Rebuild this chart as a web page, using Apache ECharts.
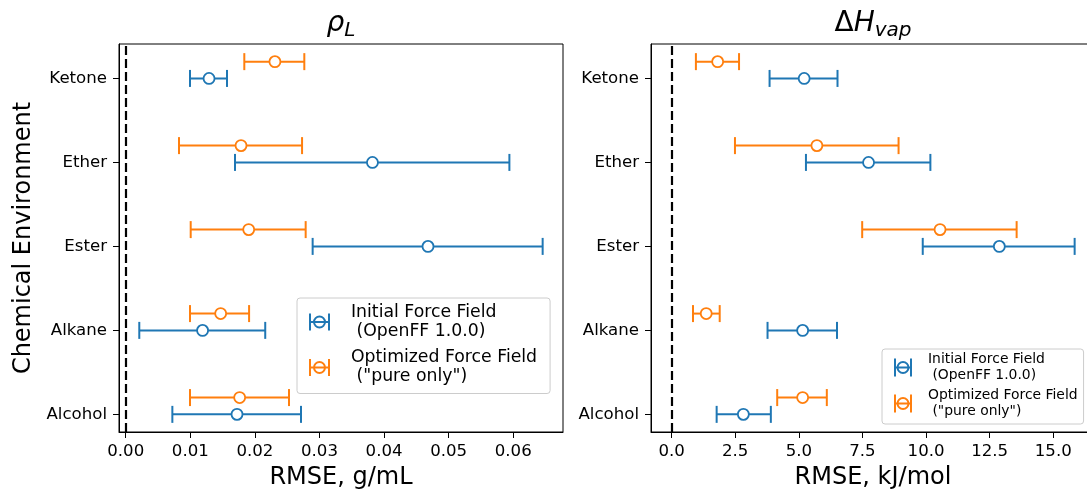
<!DOCTYPE html>
<html><head><meta charset="utf-8">
<script src="https://cdn.jsdelivr.net/npm/echarts@6/dist/echarts.min.js"></script>
<style>html,body{margin:0;padding:0;background:#fff}#c{width:1087px;height:491px}</style>
</head><body><div id="c"></div>
<script>
// ---- data ----
const categories = ['Alcohol', 'Alkane', 'Ester', 'Ether', 'Ketone'];
const seriesNames = ['Initial Force Field (OpenFF 1.0.0)', 'Optimized Force Field ("pure only")'];
const densityTicks = [0, 0.01, 0.02, 0.03, 0.04, 0.05, 0.06];
const hvapTicks = [0, 2.5, 5, 7.5, 10, 12.5, 15];
const categoryTicks = [0, 1, 2, 3, 4];

// density RMSE (g/mL)
const densityInitial     = [0.01723, 0.0119, 0.0468, 0.0382, 0.0129];
const densityInitialLow  = [0.00722, 0.0021, 0.02894, 0.01692, 0.00995];
const densityInitialHigh = [0.02714, 0.0216, 0.06455, 0.0594, 0.01568];
const densityOpt         = [0.01764, 0.0147, 0.01904, 0.01785, 0.0231];
const densityOptLow      = [0.00995, 0.00995, 0.01006, 0.00825, 0.01836];
const densityOptHigh     = [0.02528, 0.0191, 0.02786, 0.0273, 0.02765];

// enthalpy of vaporization RMSE (kJ/mol)
const hvapInitial     = [2.82, 5.15, 12.88, 7.74, 5.21];
const hvapInitialLow  = [1.77, 3.77, 9.87, 5.28, 3.85];
const hvapInitialHigh = [3.90, 6.50, 15.84, 10.17, 6.52];
const hvapOpt         = [5.15, 1.36, 10.55, 5.71, 1.81];
const hvapOptLow      = [4.15, 0.84, 7.49, 2.49, 0.955];
const hvapOptHigh     = [6.10, 1.89, 13.56, 8.92, 2.65];

// ---- style / layout ----
const BLUE = '#1f77b4', ORANGE = '#ff7f0e';
const OFFSET = 0.2;
const FONT = 'DejaVu Sans';
const TICK_FS = 16.6;

function errorBars(name, lo, hi, off, color, idx) {
  return {
    type: 'custom', name, xAxisIndex: idx, yAxisIndex: idx, z: 2, silent: true,
    data: lo.map((l, i) => [l, hi[i], i + off]),
    encode: { x: [0, 1], y: 2 },
    renderItem: (params, api) => {
      const a = api.coord([api.value(0), api.value(2)]);
      const b = api.coord([api.value(1), api.value(2)]);
      const h = 8.5;
      const style = { stroke: color, lineWidth: 2, fill: null };
      return { type: 'group', children: [
        { type: 'line', shape: { x1: a[0], y1: a[1], x2: b[0], y2: b[1] }, style },
        { type: 'line', shape: { x1: a[0], y1: a[1] - h, x2: a[0], y2: a[1] + h }, style },
        { type: 'line', shape: { x1: b[0], y1: b[1] - h, x2: b[0], y2: b[1] + h }, style }
      ]};
    }
  };
}
function points(name, vals, off, color, idx, withLine) {
  const s = {
    type: 'scatter', name, xAxisIndex: idx, yAxisIndex: idx, z: 3, silent: true,
    data: vals.map((v, i) => [v, i + off]),
    symbol: 'circle', symbolSize: 11,
    itemStyle: { color: '#fff', borderColor: color, borderWidth: 1.8, opacity: 1 }
  };
  if (withLine) {
    s.markLine = { silent: true, symbol: 'none', label: { show: false }, animation: false,
      lineStyle: { color: '#000', type: [9, 4], width: 2.2 }, data: [{ xAxis: 0 }] };
  }
  return s;
}

function xAxis(idx, min, max, ticks, dec, name) {
  return {
    type: 'value', gridIndex: idx, min, max,
    axisLine: { show: true, onZero: false, lineStyle: { color: '#000', width: 1 } },
    axisTick: { show: true, length: 6, customValues: ticks, lineStyle: { color: '#000', width: 1 } },
    axisLabel: { customValues: ticks, formatter: v => Number(v).toFixed(dec),
      fontSize: TICK_FS, fontFamily: FONT, color: '#000', margin: 11 },
    splitLine: { show: false },
    name, nameLocation: 'middle', nameGap: 34,
    nameTextStyle: { fontSize: 24, fontFamily: FONT, color: '#000' }
  };
}
function yAxis(idx, name) {
  const a = {
    type: 'value', gridIndex: idx, min: -0.21, max: 4.41,
    axisLine: { show: true, onZero: false, lineStyle: { color: '#000', width: 1 } },
    axisTick: { show: true, length: 6, customValues: categoryTicks, lineStyle: { color: '#000', width: 1 } },
    axisLabel: { customValues: categoryTicks, formatter: v => categories[Math.round(v)],
      fontSize: TICK_FS, fontFamily: FONT, color: '#000', margin: 12 },
    splitLine: { show: false }
  };
  if (name) {
    a.name = name; a.nameLocation = 'middle'; a.nameGap = 83;
    a.nameTextStyle = { fontSize: 24, fontFamily: FONT, color: '#000' };
  }
  return a;
}

const iconLeft = 'path://M0,0L0,17M19,0L19,17M0,8.5L19,8.5M4,8.5A5.5,5.5,0,1,1,15,8.5A5.5,5.5,0,1,1,4,8.5';
const iconRight = 'path://M0,0L0,18M16,0L16,18M0,9L16,9M2.5,9A5.5,5.5,0,1,1,13.5,9A5.5,5.5,0,1,1,2.5,9';
function legendData(icon) {
  return [
    { name: seriesNames[0], icon, itemStyle: { color: 'rgba(0,0,0,0)', borderColor: BLUE, borderWidth: 2 } },
    { name: seriesNames[1], icon, itemStyle: { color: 'rgba(0,0,0,0)', borderColor: ORANGE, borderWidth: 2 } }
  ];
}
const fmt = n => n.replace(' (', '\n (');

const richBase = { fontFamily: FONT, color: '#000', fontWeight: 'normal' };
const chart = echarts.init(document.getElementById('c'), null, { renderer: 'canvas' });
chart.setOption({
  animation: false,
  backgroundColor: '#fff',
  title: [
    {
      text: '{m|ρ}{s|L}', left: 341, top: 7, textAlign: 'center', padding: 0,
      textStyle: { fontWeight: 'normal', rich: {
        m: Object.assign({ fontSize: 28, fontStyle: 'italic', lineHeight: 34 }, richBase),
        s: Object.assign({ fontSize: 20, fontStyle: 'italic', lineHeight: 22, verticalAlign: 'bottom' }, richBase)
      }}
    },
    {
      text: '{d|Δ}{m|H}{s|vap}', left: 873, top: 7, textAlign: 'center', padding: 0,
      textStyle: { fontWeight: 'normal', rich: {
        d: Object.assign({ fontSize: 28, lineHeight: 34 }, richBase),
        m: Object.assign({ fontSize: 28, fontStyle: 'italic', lineHeight: 34 }, richBase),
        s: Object.assign({ fontSize: 20, fontStyle: 'italic', lineHeight: 22, verticalAlign: 'bottom' }, richBase)
      }}
    }
  ],
  grid: [
    { left: 119, top: 44, width: 444, height: 388, show: true, borderColor: '#000', borderWidth: 1,
      backgroundColor: 'transparent', containLabel: false, outerBoundsMode: 'none' },
    { left: 651, top: 44, width: 444, height: 388, show: true, borderColor: '#000', borderWidth: 1,
      backgroundColor: 'transparent', containLabel: false, outerBoundsMode: 'none' }
  ],
  xAxis: [
    xAxis(0, -0.00104, 0.0677, densityTicks, 2, 'RMSE, g/mL'),
    xAxis(1, -0.81, 16.64, hvapTicks, 1, 'RMSE, kJ/mol')
  ],
  yAxis: [yAxis(0, 'Chemical Environment'), yAxis(1, null)],
  legend: [
    {
      orient: 'vertical', left: 297, top: 298, selectedMode: false,
      padding: [5, 13, 7, 12], itemGap: 7.5, itemWidth: 19, itemHeight: 17,
      backgroundColor: 'rgba(255,255,255,0.8)', borderColor: '#cccccc', borderWidth: 1, borderRadius: 3,
      textStyle: { fontSize: 17.3, fontFamily: FONT, color: '#000', lineHeight: 19, padding: [0, 0, 0, 17] },
      formatter: fmt, data: legendData(iconLeft)
    },
    {
      orient: 'vertical', left: 882, top: 349, selectedMode: false,
      padding: [3, 6, 5, 12], itemGap: 5, itemWidth: 16, itemHeight: 18,
      backgroundColor: 'rgba(255,255,255,0.8)', borderColor: '#cccccc', borderWidth: 1, borderRadius: 3,
      textStyle: { fontSize: 13.9, fontFamily: FONT, color: '#000', lineHeight: 15.5, padding: [0, 0, 0, 12] },
      formatter: fmt, data: legendData(iconRight)
    }
  ],
  series: [
    errorBars(seriesNames[0], densityInitialLow, densityInitialHigh, 0, BLUE, 0),
    errorBars(seriesNames[1], densityOptLow, densityOptHigh, OFFSET, ORANGE, 0),
    points(seriesNames[0], densityInitial, 0, BLUE, 0, true),
    points(seriesNames[1], densityOpt, OFFSET, ORANGE, 0, false),
    errorBars(seriesNames[0], hvapInitialLow, hvapInitialHigh, 0, BLUE, 1),
    errorBars(seriesNames[1], hvapOptLow, hvapOptHigh, OFFSET, ORANGE, 1),
    points(seriesNames[0], hvapInitial, 0, BLUE, 1, true),
    points(seriesNames[1], hvapOpt, OFFSET, ORANGE, 1, false)
  ]
});
</script></body></html>
